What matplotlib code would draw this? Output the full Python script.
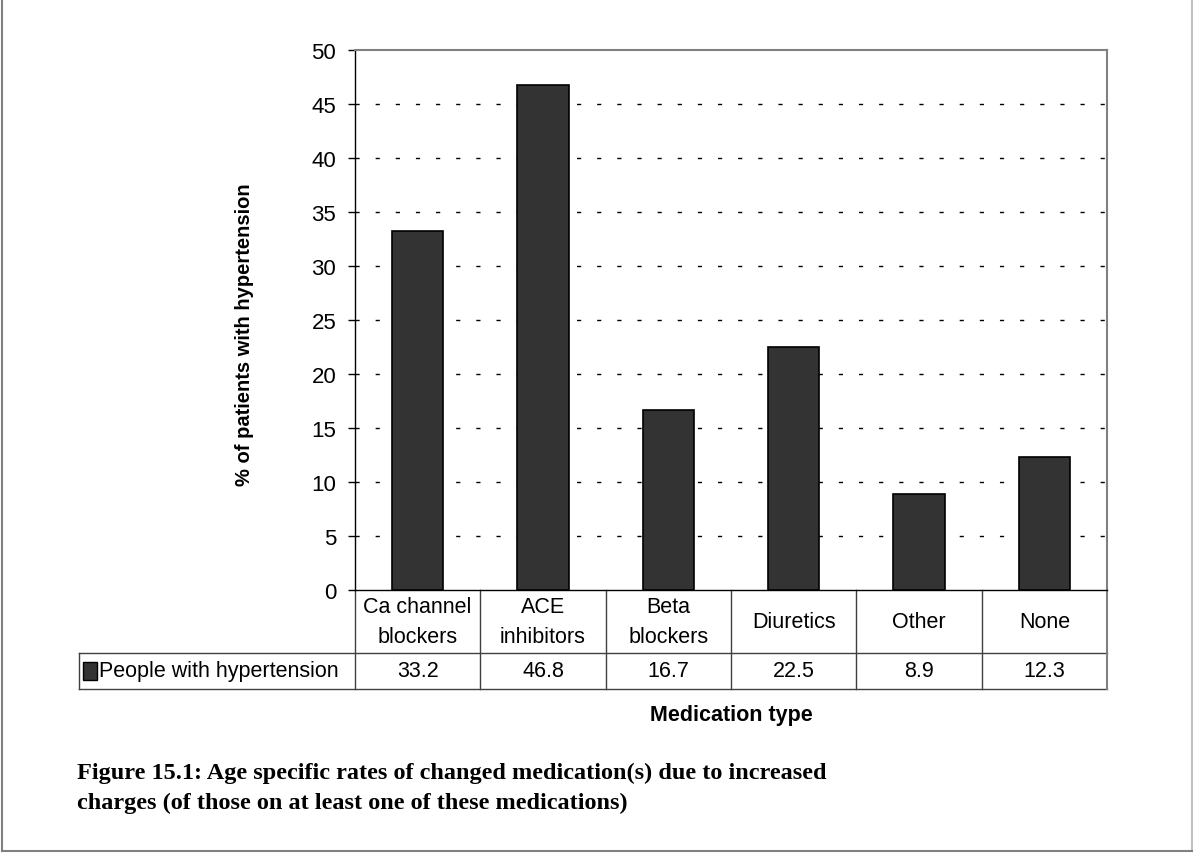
import matplotlib.pyplot as plt
from matplotlib.lines import Line2D
from matplotlib.patches import Rectangle

# Daten aus der Vorlage
categories = ['Ca channel\nblockers', 'ACE\ninhibitors', 'Beta\nblockers',
              'Diuretics', 'Other', 'None']
values = [33.2, 46.8, 16.7, 22.5, 8.9, 12.3]
value_labels = ['33.2', '46.8', '16.7', '22.5', '8.9', '12.3']
series_name = 'People with hypertension'
yticks = [0, 5, 10, 15, 20, 25, 30, 35, 40, 45, 50]

plt.rcParams['font.family'] = ['Liberation Sans', 'DejaVu Sans']

W, H = 1193, 854
fig = plt.figure(figsize=(W / 100, H / 100), dpi=100)
ax = fig.add_axes([355 / W, 1 - 591 / H, (1107 - 355) / W, (591 - 51) / H])

bar_col = '#333333'
fs = 15.5
x = list(range(len(categories)))
ax.bar(x, values, width=0.41, color=bar_col, edgecolor='black', linewidth=1.2, zorder=3)

ax.set_xlim(-0.5, len(categories) - 0.5)
ax.set_ylim(0, 50)
ax.set_yticks(yticks)
ax.set_yticklabels([str(t) for t in yticks], fontsize=fs + 0.5)
ax.set_xticks([])
ax.tick_params(axis='y', direction='out', length=5, width=1, pad=8.5, color='black')

for t in yticks[1:-1]:
    ax.axhline(t, color='black', lw=1, linestyle=(0, (3, 11.5)), zorder=1)

for side in ['top', 'right']:
    ax.spines[side].set_color('#808080')
    ax.spines[side].set_linewidth(1.5)
for side in ['left', 'bottom']:
    ax.spines[side].set_color('black')
    ax.spines[side].set_linewidth(1)

ax_h = 591 - 51
ax_w = 1107 - 355
ax.set_ylabel('% of patients with hypertension', fontsize=14.5, fontweight='bold')
ax.yaxis.set_label_coords(-(355 - 254) / ax_w, 0.5 - 14 / ax_h)

# Datentabelle unter der Achse
n = len(categories)
r1 = -(654 - 591) / ax_h
r2 = -(690 - 591) / ax_h
left = -(355 - 79) / ax_w
lc = '#404040'
tr = ax.transAxes
kw = dict(transform=tr, clip_on=False, lw=1, color=lc)
ax.add_line(Line2D([0, 1], [r1, r1], **kw))
ax.add_line(Line2D([left, 1], [r2, r2], **kw))
ax.add_line(Line2D([left, 0], [r1, r1], **kw))
ax.add_line(Line2D([left, left], [r1, r2], **kw))
for i in range(n):
    xf = i / n
    ax.add_line(Line2D([xf, xf], [0, r2], **kw))
ax.add_line(Line2D([1, 1], [0, r2], transform=tr, clip_on=False, lw=1.5, color='#808080'))

for i, (cat, lab) in enumerate(zip(categories, value_labels)):
    xc = (i + 0.5) / n
    ax.text(xc, r1 / 2, cat, transform=tr, ha='center', va='center', fontsize=fs,
            linespacing=1.6)
    ax.text(xc, (r1 + r2) / 2, lab, transform=tr, ha='center', va='center', fontsize=fs)

sq_w = 14 / ax_w
sq_h = 18 / ax_h
ax.add_patch(Rectangle((left + 4 / ax_w, (r1 + r2) / 2 - sq_h / 2), sq_w, sq_h,
                       transform=tr, clip_on=False, facecolor=bar_col,
                       edgecolor='black', lw=1))
ax.text(left + 20 / ax_w, (r1 + r2) / 2, series_name, transform=tr, ha='left',
        va='center', fontsize=fs)

ax.text(0.5, -(716 - 591) / ax_h, 'Medication type', transform=tr, ha='center',
        va='center', fontsize=15.5, fontweight='bold')

# Bildunterschrift
fig.text(77 / W, 1 - 773 / H,
         'Figure 15.1: Age specific rates of changed medication(s) due to increased',
         ha='left', va='center', fontsize=17.5, fontweight='bold',
         family='Liberation Serif')
fig.text(77 / W, 1 - 803 / H,
         'charges (of those on at least one of these medications)',
         ha='left', va='center', fontsize=17.5, fontweight='bold',
         family='Liberation Serif')

# Rahmen um die Abbildung
fc = '#808080'
fig.add_artist(Line2D([1.5 / W, 1.5 / W], [1, 1 - 852 / H], transform=fig.transFigure, color=fc, lw=1.5))
fig.add_artist(Line2D([1191.5 / W, 1191.5 / W], [1, 1 - 852 / H], transform=fig.transFigure, color='#c0c0c0', lw=1.5))
fig.add_artist(Line2D([1.5 / W, 1191.5 / W], [1 - 852 / H, 1 - 852 / H], transform=fig.transFigure, color=fc, lw=1.5))

fig.savefig('out.png', dpi=100)
